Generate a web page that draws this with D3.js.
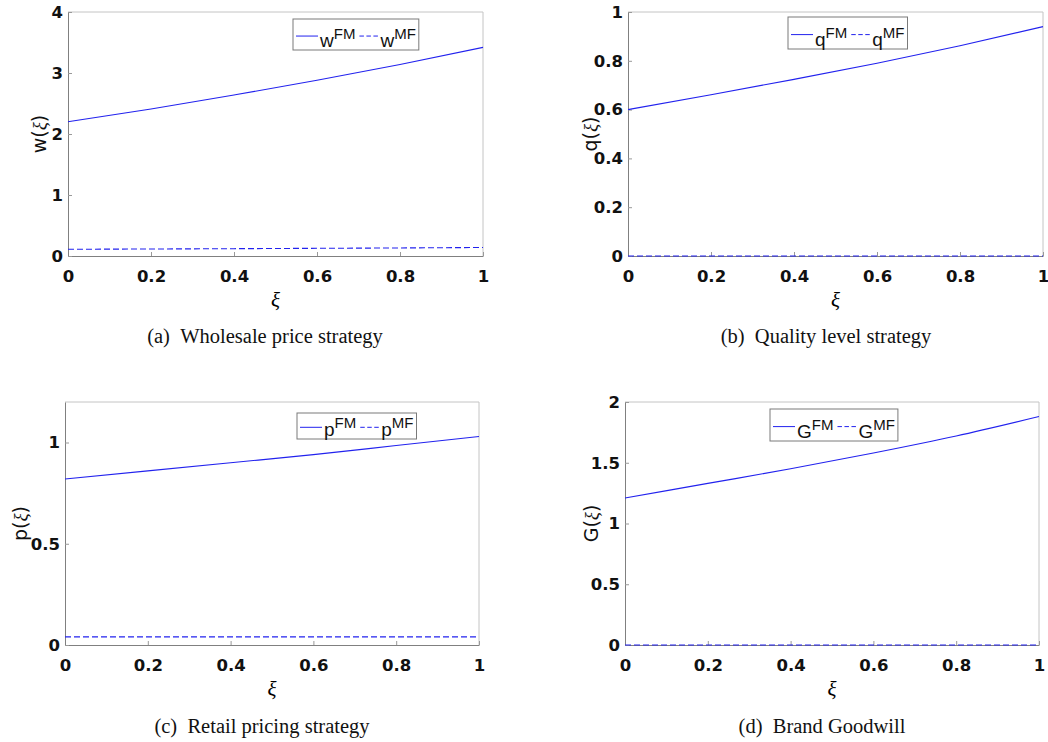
<!DOCTYPE html>
<html>
<head>
<meta charset="utf-8">
<script src="https://cdn.jsdelivr.net/npm/d3@7"></script>
<style>
  body { margin: 0; background: #fff; }
  svg { display: block; }
</style>
</head>
<body>
<div class="chart"></div>
<script>
// values
var xi = [0, 0.2, 0.4, 0.6, 0.8, 1];
var xTicks = [0, 0.2, 0.4, 0.6, 0.8, 1];

var wFM = [2.20, 2.41, 2.64, 2.88, 3.14, 3.42];
var wMF = [0.11, 0.115, 0.12, 0.126, 0.132, 0.14];
var qFM = [0.60, 0.661, 0.724, 0.79, 0.862, 0.94];
var qMF = [0, 0, 0, 0, 0, 0];
var pFM = [0.82, 0.86, 0.90, 0.94, 0.985, 1.03];
var pMF = [0.04, 0.04, 0.04, 0.04, 0.04, 0.04];
var gFM = [1.21, 1.33, 1.45, 1.58, 1.72, 1.88];
var gMF = [0, 0, 0, 0, 0, 0];

var wTicks = [0, 1, 2, 3, 4];
var qTicks = [0, 0.2, 0.4, 0.6, 0.8, 1];
var pTicks = [0, 0.5, 1];
var gTicks = [0, 0.5, 1, 1.5, 2];

var captions = ['(a)\u00a0\u00a0Wholesale price strategy', '(b)\u00a0\u00a0Quality level strategy',
                '(c)\u00a0\u00a0Retail pricing strategy', '(d)\u00a0\u00a0Brand Goodwill'];

var panels = [
  { sym: 'w', fm: wFM, mf: wMF, ymax: 4, ticks: wTicks, caption: captions[0],
    L: 68, R: 483, T: 12, B: 256, labX: 46, capX: 265, capY: 343,
    leg: { x: 293, y: 19, h: 31 } },
  { sym: 'q', fm: qFM, mf: qMF, ymax: 1, ticks: qTicks, caption: captions[1],
    L: 628, R: 1043, T: 12, B: 256, labX: 597, capX: 826, capY: 343,
    leg: { x: 788, y: 17, h: 32 } },
  { sym: 'p', fm: pFM, mf: pMF, ymax: 1.2, ticks: pTicks, caption: captions[2],
    L: 65, R: 479, T: 402, B: 645, labX: 27, capX: 262, capY: 733,
    leg: { x: 297, y: 413, h: 26 } },
  { sym: 'G', fm: gFM, mf: gMF, ymax: 2, ticks: gTicks, caption: captions[3],
    L: 625, R: 1039, T: 402, B: 645, labX: 598, capX: 822, capY: 733,
    leg: { x: 770, y: 409, h: 32 } }
];

var BLUE = '#2222ee';
var SANS = '"DejaVu Sans", sans-serif';
var ARIAL = '"Liberation Sans", Arial, sans-serif';
var SERIF = '"Liberation Serif", "Times New Roman", serif';

var svg = d3.select('.chart').append('svg')
    .attr('width', 1048)
    .attr('height', 742);

svg.append('rect')
    .attr('width', 1048)
    .attr('height', 742)
    .attr('fill', '#fff');

function drawPanel(p){
  var x = d3.scaleLinear().domain([0, 1]).range([p.L, p.R]);
  var y = d3.scaleLinear().domain([0, p.ymax]).range([p.B, p.T]);
  var g = svg.append('g');

  // light box on top / right
  g.append('path')
      .attr('d', 'M' + p.L + ',' + p.T + 'H' + p.R + 'V' + p.B)
      .attr('fill', 'none')
      .attr('stroke', '#c4c4c4');

  var xAxis = g.append('g')
      .attr('transform', 'translate(0,' + p.B + ')')
      .call(d3.axisBottom(x).tickValues(xTicks).tickSizeInner(-4).tickSizeOuter(0)
        .tickPadding(14).tickFormat(d3.format('~g')));

  var yAxis = g.append('g')
      .attr('transform', 'translate(' + p.L + ',0)')
      .call(d3.axisLeft(y).tickValues(p.ticks).tickSizeInner(-4).tickSizeOuter(0)
        .tickPadding(5).tickFormat(d3.format('~g')));

  [xAxis, yAxis].forEach(function(a){
    a.select('.domain').attr('stroke', '#808080');
    a.selectAll('.tick line').attr('stroke', '#999');
    a.selectAll('.tick text')
        .attr('fill', '#111')
        .style('font-family', SANS)
        .style('font-weight', 'bold')
        .style('font-size', '16.5px');
  });

  var line = d3.line()
      .curve(d3.curveMonotoneX)
      .x(function(d, i){ return x(xi[i]); })
      .y(function(d){ return y(d); });

  g.append('path')
      .datum(p.fm)
      .attr('d', line)
      .attr('fill', 'none')
      .attr('stroke', BLUE)
      .attr('stroke-width', 1.1);

  g.append('path')
      .datum(p.mf)
      .attr('d', line)
      .attr('fill', 'none')
      .attr('stroke', BLUE)
      .attr('stroke-width', 1.1)
      .attr('stroke-dasharray', '6,3');

  // x label
  g.append('text')
      .attr('x', (p.L + p.R) / 2)
      .attr('y', p.B + 51)
      .attr('text-anchor', 'middle')
      .style('font-family', SERIF)
      .style('font-style', 'italic')
      .style('font-size', '21px')
      .text('\u03be');

  // y label, rotated
  var yl = g.append('text')
      .attr('transform', 'translate(' + p.labX + ',' + (p.T + p.B) / 2 + ') rotate(-90)')
      .attr('text-anchor', 'middle')
      .style('font-family', SANS)
      .style('font-size', '19px')
      .attr('fill', '#111');
  yl.append('tspan').text(p.sym + '(');
  yl.append('tspan').style('font-family', SERIF).style('font-style', 'italic').text('\u03be');
  yl.append('tspan').text(')');

  // caption
  g.append('text')
      .attr('x', p.capX)
      .attr('y', p.capY)
      .attr('text-anchor', 'middle')
      .style('font-family', SERIF)
      .style('font-size', '20.5px')
      .attr('fill', '#111')
      .text(p.caption);

  drawLegend(g, p);
}

function legendLabel(g, sym, sup, x0, base){
  var t = g.append('text')
      .attr('x', x0)
      .attr('y', base)
      .style('font-family', ARIAL)
      .style('font-size', '19px')
      .attr('fill', '#111');
  t.append('tspan').text(sym);
  t.append('tspan').attr('dy', -8).style('font-size', '15px').text(sup);
  return t.node().getComputedTextLength();
}

function drawLegend(g, p){
  var b = p.leg;
  var lg = g.append('g');
  var box = lg.append('rect')
      .attr('x', b.x)
      .attr('y', b.y)
      .attr('height', b.h)
      .attr('fill', '#fff')
      .attr('stroke', '#7a7a7a');

  var ly = b.y + b.h * 0.55;
  var base = b.y + b.h - 3;
  var cx = b.x + 3;

  lg.append('line')
      .attr('x1', cx).attr('x2', cx + 22)
      .attr('y1', ly).attr('y2', ly)
      .attr('stroke', BLUE);
  cx += 24;
  cx += legendLabel(lg, p.sym, 'FM', cx, base) + 4;

  lg.append('line')
      .attr('x1', cx).attr('x2', cx + 20)
      .attr('y1', ly).attr('y2', ly)
      .attr('stroke', BLUE)
      .attr('stroke-dasharray', '4.5,2.5');
  cx += 21;
  cx += legendLabel(lg, p.sym, 'MF', cx, base);

  box.attr('width', cx + 3 - b.x);
}

panels.forEach(drawPanel);
</script>
</body>
</html>
